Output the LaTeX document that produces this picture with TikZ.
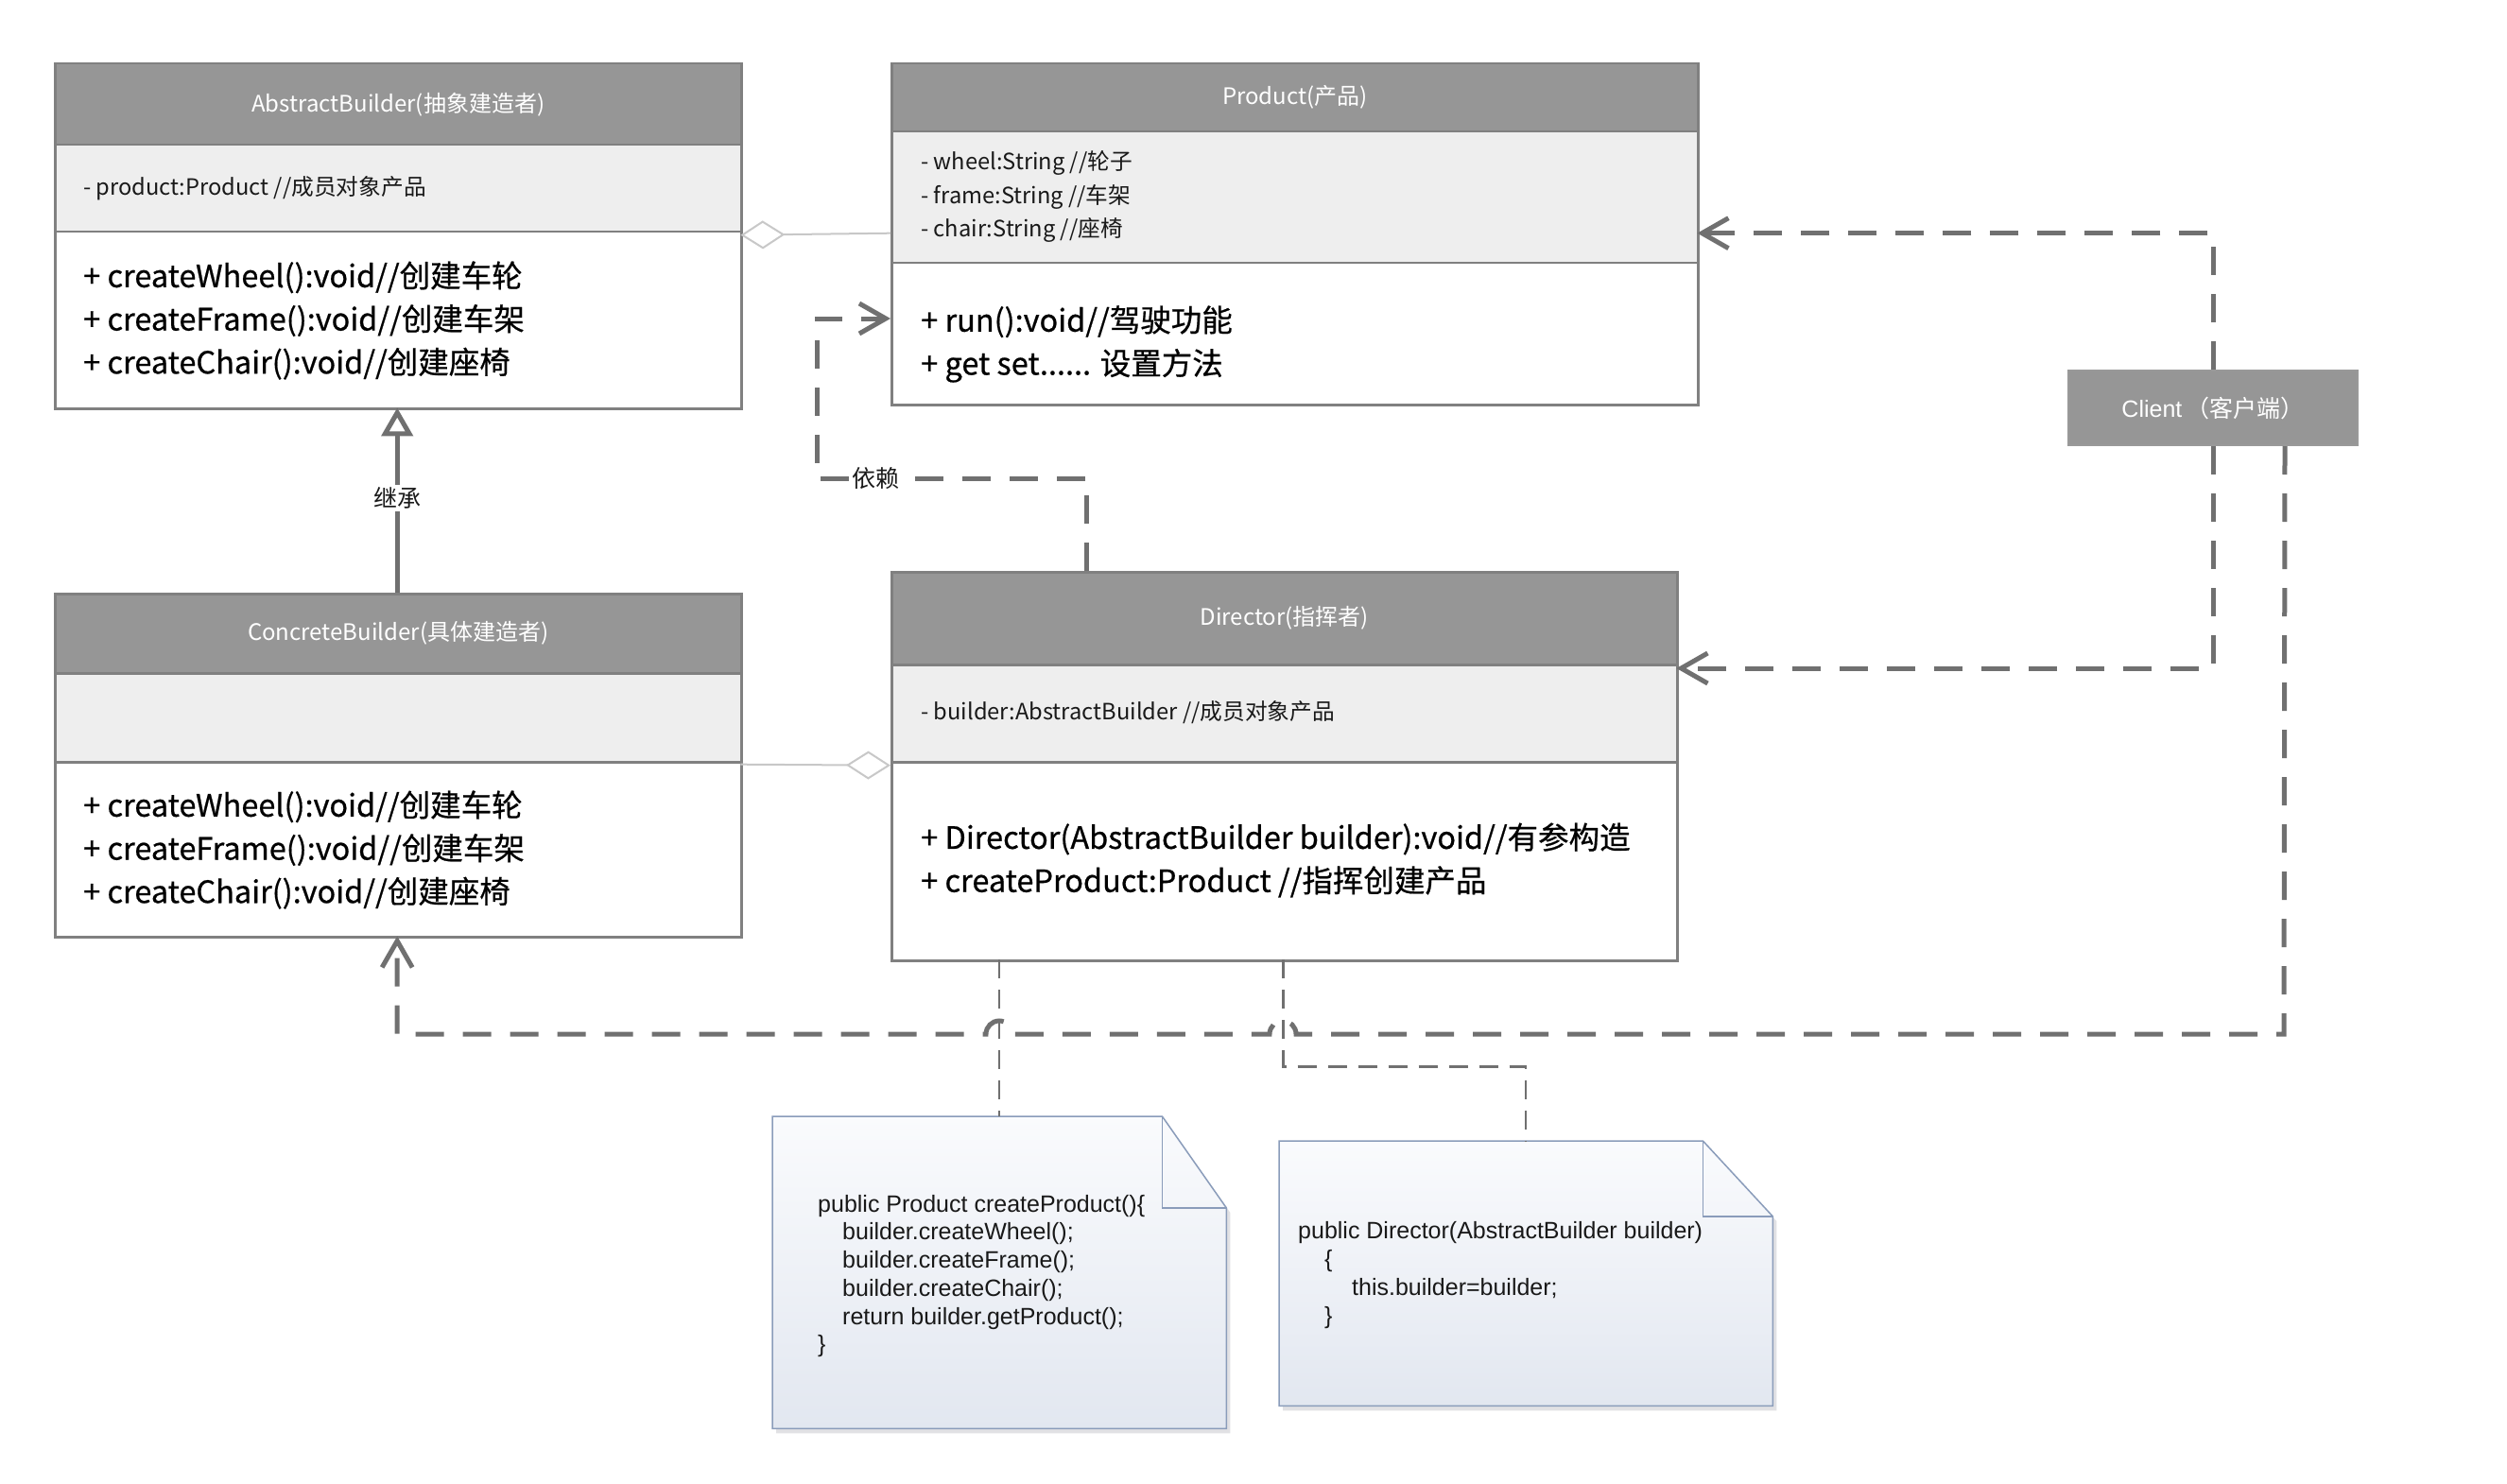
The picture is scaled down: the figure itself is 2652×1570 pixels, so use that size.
\documentclass[tikz,border=0pt]{standalone}
\usepackage{fontspec}
\setmainfont{Noto Sans CJK SC}
\newfontfamily\cjkb[FakeBold=0.6]{Noto Sans CJK SC}
\newfontfamily\lib{Liberation Sans}
\usetikzlibrary{arrows.meta}
\definecolor{hdrfill}{RGB}{150,150,150}
\definecolor{attfill}{RGB}{238,238,238}
\definecolor{bord}{RGB}{128,128,128}
\definecolor{conn}{RGB}{112,112,112}
\definecolor{aggc}{RGB}{200,200,200}
\definecolor{notetop}{RGB}{250,251,253}
\definecolor{notebot}{RGB}{226,231,240}
\definecolor{notebord}{RGB}{138,156,186}
\definecolor{shadowc}{RGB}{225,225,228}
\definecolor{txt}{RGB}{25,25,25}
\begin{document}
\begin{tikzpicture}[x=1pt,y=-1pt,
  frame/.style={draw=bord, line width=2.5pt, inner sep=0pt, anchor=north west},
  hdr/.style={frame, fill=hdrfill},
  att/.style={frame, fill=attfill},
  mth/.style={frame, fill=white},
  outer/.style={inner sep=0pt, anchor=north west},
  htext/.style={text=white, font=\fontsize{24}{29}\selectfont, inner sep=0pt},
  atext/.style={text=txt, font=\fontsize{23.7}{35.5}\selectfont, inner sep=0pt, anchor=west, align=left},
  mtext/.style={text=black, font=\cjkb\fontsize{32.5}{45.7}\selectfont, inner sep=0pt, anchor=west, align=left},
  ntext/.style={text=txt, font=\lib\fontsize{25}{29.7}\selectfont, inner sep=0pt, anchor=west, align=left},
  lbl/.style={fill=white, text=txt, font=\fontsize{25}{30}\selectfont, inner sep=3pt},
  dep/.style={draw=conn, line width=5pt, dash pattern=on 30pt off 20pt, -{Straight Barb[length=28pt,width=32pt]}},
  inh/.style={draw=conn, line width=5pt, -{Triangle[length=30pt,width=33pt,fill=white]}},
  agg/.style={draw=aggc, line width=2pt},
  notelink/.style={draw=conn, line width=2.5pt, dash pattern=on 20pt off 12pt},
  notebody/.style={draw=notebord, line width=1.5pt, top color=notetop, bottom color=notebot}
]
\fill[white] (0,0) rectangle (2652,1570);
\useasboundingbox (0,0) rectangle (2652,1570);

% ---------- AbstractBuilder ----------
\node[outer, minimum width=726, minimum height=365] (ab) at (57,66) {};
\node[hdr, minimum width=726, minimum height=86] (ab-h) at (57,66) {};
\node[att, minimum width=726, minimum height=92] (ab-a) at (57,152) {};
\node[mth, minimum width=726, minimum height=187] (ab-m) at (57,244) {};
\node[htext] (ab-ht) at (ab-h.center) {AbstractBuilder(抽象建造者)};
\node[atext] (ab-at) at (88,199) {- product:Product //成员对象产品};
\node[mtext] (ab-mt) at (88,339) {+ createWheel():void//创建车轮\\+ createFrame():void//创建车架\\+ createChair():void//创建座椅};

% ---------- Product ----------
\node[outer, minimum width=853, minimum height=361] (pr) at (942,66) {};
\node[hdr, minimum width=853, minimum height=72] (pr-h) at (942,66) {};
\node[att, minimum width=853, minimum height=139] (pr-a) at (942,138) {};
\node[mth, minimum width=853, minimum height=150] (pr-m) at (942,277) {};
\node[htext] (pr-ht) at (pr-h.center) {Product(产品)};
\node[atext] (pr-at) at (974,208) {- wheel:String //轮子\\- frame:String //车架\\- chair:String //座椅};
\node[mtext] (pr-mt) at (974,364) {+ run():void//驾驶功能\\+ get set...... 设置方法};

% ---------- ConcreteBuilder ----------
\node[outer, minimum width=726, minimum height=363] (cb) at (57,627) {};
\node[hdr, minimum width=726, minimum height=84] (cb-h) at (57,627) {};
\node[att, minimum width=726, minimum height=94] (cb-a) at (57,711) {};
\node[mth, minimum width=726, minimum height=185] (cb-m) at (57,805) {};
\node[htext] (cb-ht) at (cb-h.center) {ConcreteBuilder(具体建造者)};
\node[mtext] (cb-mt) at (88,899) {+ createWheel():void//创建车轮\\+ createFrame():void//创建车架\\+ createChair():void//创建座椅};

% ---------- Director ----------
\node[outer, minimum width=831, minimum height=411] (di) at (942,604) {};
\node[hdr, minimum width=831, minimum height=98] (di-h) at (942,604) {};
\node[att, minimum width=831, minimum height=103] (di-a) at (942,702) {};
\node[mth, minimum width=831, minimum height=210] (di-m) at (942,805) {};
\node[htext] (di-ht) at (di-h.center) {Director(指挥者)};
\node[atext] (di-at) at (974,754) {- builder:AbstractBuilder //成员对象产品};
\node[mtext] (di-mt) at (974,910) {+ Director(AbstractBuilder builder):void//有参构造\\+ createProduct:Product //指挥创建产品};

% ---------- Client ----------
\node[hdr, draw=bord!80, line width=2pt, minimum width=306, minimum height=79] (cl) at (2187,391) {};
\node[text=white, font=\fontsize{25}{30}\selectfont, inner sep=0pt] (cl-t) at (cl.center) {{\lib Client}\,（客户端）};

% ---------- Notes ----------
\node[outer, minimum width=480, minimum height=330] (n1) at (817,1181) {};
\fill[shadowc] ([shift={(4,5)}]n1.north west) -- ([shift={(-64,5)}]n1.north east) -- ([shift={(4,102)}]n1.north east) -- ([shift={(4,5)}]n1.south east) -- ([shift={(4,5)}]n1.south west) -- cycle;
\path[notebody] (n1.north west) -- ([xshift=-68pt]n1.north east) -- ([yshift=-97pt]n1.north east) -- (n1.south east) -- (n1.south west) -- cycle;
\draw[notebord, line width=1.5pt] ([xshift=-68pt]n1.north east) |- ([yshift=-97pt]n1.north east);
\node[ntext] (n1-t) at (865,1350) {public Product createProduct()\{\\\hspace*{26pt}builder.createWheel();\\\hspace*{26pt}builder.createFrame();\\\hspace*{26pt}builder.createChair();\\\hspace*{26pt}return builder.getProduct();\\\}};

\node[outer, minimum width=522, minimum height=280] (n2) at (1353,1207) {};
\fill[shadowc] ([shift={(4,5)}]n2.north west) -- ([shift={(-70,5)}]n2.north east) -- ([shift={(4,85)}]n2.north east) -- ([shift={(4,5)}]n2.south east) -- ([shift={(4,5)}]n2.south west) -- cycle;
\path[notebody] (n2.north west) -- ([xshift=-74pt]n2.north east) -- ([yshift=-80pt]n2.north east) -- (n2.south east) -- (n2.south west) -- cycle;
\draw[notebord, line width=1.5pt] ([xshift=-74pt]n2.north east) |- ([yshift=-80pt]n2.north east);
\node[ntext] (n2-t) at (1373,1349) {public Director(AbstractBuilder builder)\\\hspace*{28pt}\{\\\hspace*{57pt}this.builder=builder;\\\hspace*{28pt}\}};

% ---------- Aggregations ----------
\draw[agg, {Diamond[length=47pt,width=30pt,fill=white]}-] (ab.east) -- (pr.west);
\draw[agg, -{Diamond[length=47pt,width=30pt,fill=white]}] (cb.east) -- (di.west);

% ---------- Inheritance ----------
\draw[inh] (cb.north) -- (ab.south);
\node[lbl] (inh-l) at (420,527) {继承};

% ---------- Dependency ----------
\draw[dep] ([xshift=-208pt]di.north) -- ++(0,-98) -| (864,337) -- ([yshift=-271pt]pr.north west);
\node[lbl] (dep-l) at (926,506) {依赖};

% ---------- Note links ----------
\draw[notelink] (di.south -| n1.north) -- (n1.north);
\draw[notelink] (di.south) -- ++(0,113) -| (n2.north);

% ---------- Client dependencies ----------
\draw[dep] (cl.north) |- (pr.east);
\draw[dep] (cl.south) |- ([yshift=-103pt]di.north east);
\draw[dep] ([xshift=76pt]cl.south) -- (2416,1094) -- (1371,1094) arc[start angle=0, end angle=-180, radius=14] -- (1071,1094) arc[start angle=0, end angle=-180, radius=14] -- (420,1094) -- (cb.south);
\end{tikzpicture}
\end{document}
